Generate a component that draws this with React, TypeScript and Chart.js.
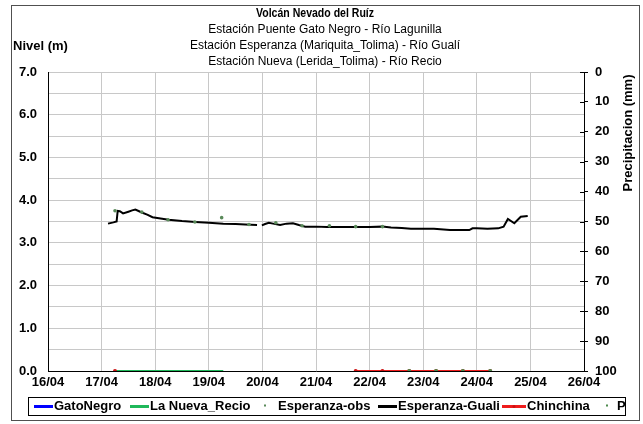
import React, { useEffect, useRef } from 'react';
import { Chart, registerables } from 'chart.js';

Chart.register(...registerables);

const FONT = "'Liberation Sans', Arial, Helvetica, sans-serif";

// ---- Text ----
const chartTitle = 'Volcán Nevado del Ruíz';
const subtitleLines = [
  'Estación Puente Gato Negro - Río Lagunilla',
  'Estación Esperanza (Mariquita_Tolima) - Río Gualí',
  'Estación Nueva (Lerida_Tolima) - Río Recio',
];
const leftAxisTitle = 'Nivel (m)';
const rightAxisTitle = 'Precipitacion (mm)';
const monthLabel = '04';

// ---- Axis ranges ----
const dayMin = 16;
const dayMax = 26;
const levelMin = 0;
const levelMax = 7;
const precipMin = 0;
const precipMax = 100;

// ---- Series (x = day of April, fractional) ----
const gatoNegroT: number[] = [];
const gatoNegroV: number[] = [];

const recioT = [17.25, 17.75, 18.25, 18.75, 19.27];
const recioV = [0, 0, 0, 0, 0];

const obsT = [17.25, 17.75, 18.24, 18.74, 19.24, 19.75, 20.25, 20.74, 21.25, 21.74, 22.24];
const obsV = [3.75, 3.72, 3.54, 3.49, 3.59, 3.43, 3.47, 3.40, 3.40, 3.38, 3.38];

const gualiT = [
  17.12, 17.22, 17.28, 17.3, 17.34, 17.4, 17.5, 17.57, 17.63, 17.7, 17.75, 17.85, 17.95,
  18.1, 18.25, 18.5, 18.75, 19.0, 19.27, 19.5, 19.68, 19.9, 19.95, 19.99, 20.05, 20.12,
  20.2, 20.33, 20.45, 20.57, 20.68, 20.8, 21.0, 21.2, 21.5, 21.8, 22.0, 22.24, 22.4, 22.6,
  22.77, 23.0, 23.2, 23.5, 23.7, 23.86, 23.92, 24.0, 24.2, 24.4, 24.5, 24.58, 24.7, 24.82,
  24.95,
];
const gualiV: (number | null)[] = [
  3.45, 3.48, 3.5, 3.75, 3.74, 3.69, 3.73, 3.76, 3.78, 3.74, 3.71, 3.66, 3.6,
  3.57, 3.54, 3.51, 3.49, 3.47, 3.45, 3.44, 3.43, 3.42, null, 3.41, 3.44, 3.47,
  3.45, 3.42, 3.45, 3.46, 3.42, 3.38, 3.38, 3.37, 3.37, 3.37, 3.37, 3.38, 3.36, 3.35,
  3.33, 3.33, 3.33, 3.3, 3.3, 3.3, 3.34, 3.34, 3.33, 3.34, 3.38, 3.56, 3.46, 3.61,
  3.63,
];

const chinchinaT = [17.25, 17.5, 21.74, 22.24, 22.74, 23.24, 23.74, 24.25];
const chinchinaV: (number | null)[] = [0, null, 0, 0, 0, 0, 0, 0];

const pT = [22.74, 23.24, 23.74, 24.25];
const pV = [0, 0, 0, 0];

const toPoints = (xs: number[], ys: (number | null)[]) => xs.map((x, i) => ({ x, y: ys[i] }));

// legend item layout: [marker kind, marker start x, text start x]
const legendLayout: { kind: 'line' | 'dot' | 'linedot'; x0: number; x1: number; tx: number }[] = [
  { kind: 'line', x0: 34, x1: 53, tx: 54 },
  { kind: 'line', x0: 130, x1: 149, tx: 150 },
  { kind: 'dot', x0: 265, x1: 265, tx: 278 },
  { kind: 'line', x0: 378, x1: 397, tx: 398 },
  { kind: 'linedot', x0: 502, x1: 526, tx: 527 },
  { kind: 'dot', x0: 607, x1: 607, tx: 617 },
];

const drawFitted = (ctx: CanvasRenderingContext2D, text: string, cx: number, cy: number, width: number) => {
  const w = ctx.measureText(text).width;
  const sx = Math.min(1, width / w);
  ctx.save();
  ctx.translate(cx, cy);
  ctx.scale(sx, 1);
  ctx.fillText(text, 0, 0);
  ctx.restore();
};

const decorPlugin = {
  id: 'decor',
  beforeDraw(chart: any) {
    const ctx = chart.ctx;
    ctx.save();
    ctx.fillStyle = '#ffffff';
    ctx.fillRect(0, 0, chart.width, chart.height);
    ctx.strokeStyle = '#505050';
    ctx.lineWidth = 1;
    ctx.strokeRect(11.5, 5.5, 628, 415);
    ctx.restore();
  },
  afterDraw(chart: any) {
    const ctx = chart.ctx;
    const area = chart.chartArea;
    ctx.save();
    ctx.fillStyle = '#000';
    ctx.textBaseline = 'middle';
    ctx.textAlign = 'center';
    ctx.font = `bold 12px ${FONT}`;
    drawFitted(ctx, chartTitle, 315, 14, 118);
    ctx.font = `12px ${FONT}`;
    subtitleLines.forEach((t, i) => ctx.fillText(t, 325, 30 + i * 16));

    ctx.textAlign = 'left';
    ctx.font = `bold 13px ${FONT}`;
    ctx.fillText(leftAxisTitle, 13, 46);

    ctx.save();
    ctx.translate(628, 133);
    ctx.rotate(-Math.PI / 2);
    ctx.textAlign = 'center';
    ctx.fillText(rightAxisTitle, 0, 0);
    ctx.restore();

    // inner half of right-axis tick marks
    const y1 = chart.scales.y1;
    ctx.strokeStyle = '#000';
    ctx.lineWidth = 1;
    y1.ticks.forEach((tk: any) => {
      const y = Math.round(y1.getPixelForValue(tk.value)) + 0.5;
      ctx.beginPath();
      ctx.moveTo(area.right - 4, y);
      ctx.lineTo(area.right, y);
      ctx.stroke();
    });

    // legend
    ctx.strokeStyle = '#000';
    ctx.strokeRect(28.5, 397.5, 597, 18);
    const ly = 406.5;
    ctx.font = `bold 13px ${FONT}`;
    ctx.textAlign = 'left';
    chart.data.datasets.forEach((ds: any, i: number) => {
      const L = legendLayout[i];
      if (!L) return;
      const color = ds.borderColor || ds.pointBackgroundColor;
      if (L.kind === 'line' || L.kind === 'linedot') {
        ctx.strokeStyle = ds.borderColor;
        ctx.lineWidth = 3;
        ctx.beginPath();
        ctx.moveTo(L.x0, ly);
        ctx.lineTo(L.x1, ly);
        ctx.stroke();
      }
      if (L.kind === 'linedot') {
        ctx.fillStyle = ds.pointBackgroundColor || color;
        ctx.beginPath();
        ctx.arc((L.x0 + L.x1) / 2, ly, 1.5, 0, Math.PI * 2);
        ctx.fill();
      }
      if (L.kind === 'dot') {
        ctx.fillStyle = ds.pointBackgroundColor;
        ctx.fillRect(L.x0 - 1, ly - 2, 2, 2);
      }
      ctx.fillStyle = '#000';
      drawFitted(ctx, ds.label, L.tx, ly, 1000);
    });
    ctx.restore();
  },
};

export default function App() {
  const ref = useRef<HTMLCanvasElement | null>(null);

  useEffect(() => {
    if (!ref.current) return;
    const chart = new Chart(ref.current, {
      type: 'line',
      data: {
        datasets: [
          {
            label: 'GatoNegro',
            data: toPoints(gatoNegroT, gatoNegroV),
            borderColor: '#0000ff',
            backgroundColor: '#0000ff',
            borderWidth: 2,
            pointRadius: 0,
            yAxisID: 'y',
            order: 3,
          },
          {
            label: 'La Nueva_Recio',
            data: toPoints(recioT, recioV),
            borderColor: '#1fb85a',
            backgroundColor: '#1fb85a',
            borderWidth: 2,
            pointRadius: 0,
            yAxisID: 'y',
            order: 2,
          },
          {
            label: 'Esperanza-obs',
            data: toPoints(obsT, obsV),
            showLine: false,
            borderColor: undefined as any,
            pointBackgroundColor: '#5a8a5a',
            pointBorderWidth: 0,
            pointRadius: 1.8,
            yAxisID: 'y',
            order: 0,
          },
          {
            label: 'Esperanza-Guali',
            data: toPoints(gualiT, gualiV),
            borderColor: '#000000',
            backgroundColor: '#000000',
            borderWidth: 2,
            pointRadius: 0,
            spanGaps: false,
            yAxisID: 'y',
            order: 1,
          },
          {
            label: 'Chinchina',
            data: toPoints(chinchinaT, chinchinaV),
            borderColor: '#ee1c1c',
            backgroundColor: '#ee1c1c',
            pointBackgroundColor: '#cc1111',
            pointBorderWidth: 0,
            borderWidth: 2,
            pointRadius: 2,
            spanGaps: false,
            yAxisID: 'y',
            order: 1,
          },
          {
            label: 'P',
            data: toPoints(pT, pV),
            showLine: false,
            borderColor: undefined as any,
            pointBackgroundColor: '#4d8a4d',
            pointBorderWidth: 0,
            pointRadius: 2,
            yAxisID: 'y',
            order: 0,
          },
        ],
      },
      options: {
        responsive: false,
        animation: false,
        devicePixelRatio: 1,
        layout: { padding: { top: 72, left: 0, right: 0, bottom: 0 } },
        plugins: {
          legend: { display: false },
          title: { display: false },
          tooltip: { enabled: false },
        },
        scales: {
          x: {
            type: 'linear',
            min: dayMin,
            max: dayMax,
            afterFit: (s: any) => { s.height = 53; },
            ticks: {
              stepSize: 1,
              autoSkip: false,
              maxRotation: 0,
              padding: 4,
              color: '#000',
              font: { family: FONT, size: 13, weight: 'bold' },
              callback: (v: any) => `${v}/${monthLabel}`,
            },
            grid: { color: '#c8c8c8', drawTicks: false },
            border: { color: '#000', width: 1 },
          },
          y: {
            type: 'linear',
            position: 'left',
            min: levelMin,
            max: levelMax,
            afterFit: (s: any) => { s.width = 48; },
            ticks: {
              stepSize: 0.5,
              autoSkip: false,
              padding: 11,
              color: '#000',
              font: { family: FONT, size: 13, weight: 'bold' },
              callback: (v: any) => (Number.isInteger(v) ? Number(v).toFixed(1) : ''),
            },
            grid: { color: '#c8c8c8', drawTicks: false },
            border: { color: '#000', width: 1 },
          },
          y1: {
            type: 'linear',
            position: 'right',
            min: precipMin,
            max: precipMax,
            reverse: true,
            afterFit: (s: any) => { s.width = 59; },
            ticks: {
              stepSize: 10,
              autoSkip: false,
              padding: 7,
              color: '#000',
              font: { family: FONT, size: 13, weight: 'bold' },
            },
            grid: { drawOnChartArea: false, drawTicks: true, tickLength: 4, color: '#000' },
            border: { color: '#000', width: 1 },
          },
        },
      },
      plugins: [decorPlugin],
    });
    return () => chart.destroy();
  }, []);

  return (
    <div style={{ position: 'absolute', left: 0, top: 0, width: 643, height: 424 }}>
      <canvas ref={ref} width={643} height={424} style={{ width: 643, height: 424, display: 'block' }} />
    </div>
  );
}
